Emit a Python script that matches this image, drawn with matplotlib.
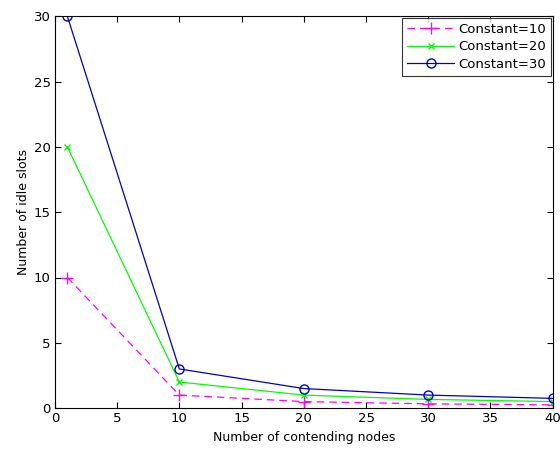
import matplotlib
matplotlib.use('Agg')
import matplotlib.pyplot as plt

nodes = [1, 10, 20, 30, 40]
idle_c10 = [10, 1, 0.5, 0.33, 0.25]
idle_c20 = [20, 2, 1, 0.67, 0.5]
idle_c30 = [30, 3, 1.5, 1, 0.75]

plt.rcParams['font.family'] = 'DejaVu Sans'
fig = plt.figure(figsize=(5.6, 4.5), dpi=100)
ax = fig.add_axes([0.098, 0.093, 0.889, 0.871])

ax.plot(nodes, idle_c10, color='#ff00ff', linestyle=(0, (6, 4)), marker='+', markersize=8, lw=0.9, label='Constant=10')
ax.plot(nodes, idle_c20, color='#00ff00', linestyle='-', marker='x', markersize=4, lw=0.9, label='Constant=20')
ax.plot(nodes, idle_c30, color='#0000cc', linestyle='-', marker='o', markersize=6.5, lw=0.9,
        markerfacecolor='none', label='Constant=30')

ax.set_xlim(0, 40)
ax.set_ylim(0, 30)
ax.set_xticks(range(0, 41, 5))
ax.set_yticks(range(0, 31, 5))
ax.tick_params(direction='in', top=True, right=True, labelsize=9.5, length=4, pad=3)
ax.set_xlabel('Number of contending nodes', fontsize=9, labelpad=4)
ax.set_ylabel('Number of idle slots', fontsize=9, labelpad=3)
leg = ax.legend(loc='upper right', fontsize=9.5, fancybox=False, edgecolor='black',
                handlelength=3.6, handletextpad=0.3, borderaxespad=0.1, labelspacing=0.35)
leg.get_frame().set_linewidth(0.8)

fig.savefig('out.png', dpi=100)
